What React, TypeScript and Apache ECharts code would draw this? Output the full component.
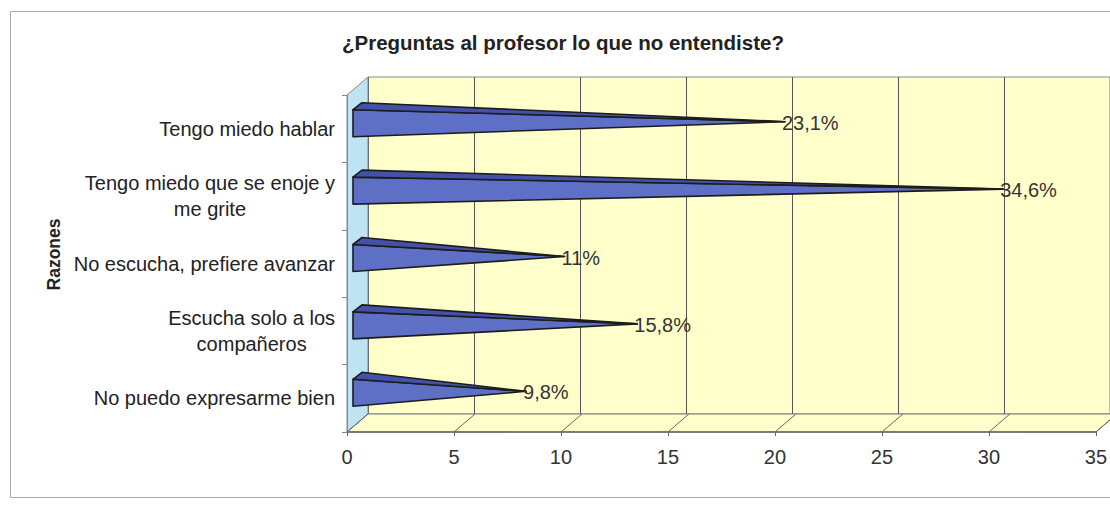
import React, { useEffect, useRef } from "react";
import * as echarts from "echarts";

const TITLE = "¿Preguntas al profesor lo que no entendiste?";
const AXIS_NAME = "Razones";
const categories = [
  "Tengo miedo hablar",
  "Tengo miedo que se enoje y\nme grite",
  "No escucha, prefiere avanzar",
  "Escucha solo a los\ncompañeros",
  "No puedo expresarme bien",
];
// bar lengths as drawn in the picture
const values = [20.0, 30.2, 9.7, 13.1, 7.9];
// data labels as printed in the picture
const valueLabels = ["23,1%", "34,6%", "11%", "15,8%", "9,8%"];
const xTicks = [0, 5, 10, 15, 20, 25, 30, 35];
const X_MIN = 0;
const X_MAX = 35;
const X_STEP = 5;

const FONT = "'Liberation Sans', Arial, sans-serif";
const DX = 21;
const DY = -18;

export default function App() {
  const ref = useRef<HTMLDivElement>(null);
  useEffect(() => {
    if (!ref.current) return;
    const chart = echarts.init(ref.current, null, { renderer: "svg" });
    const option: any = {
      animation: false,
      backgroundColor: "#ffffff",
      title: {
        text: TITLE,
        left: 337,
        top: 27,
        textStyle: { fontFamily: FONT, fontSize: 20.5, fontWeight: "bold", color: "#222" },
      },
      graphic: [
        {
          type: "rect",
          shape: { x: 10.5, y: 11.5, width: 1120, height: 486 },
          style: { fill: "none", stroke: "#a8a8a8", lineWidth: 1 },
          silent: true,
          z: 0,
        },
      ],
      grid: [
        { left: 347, top: 95, width: 751, height: 337, containLabel: false },
        {
          left: 347 + DX,
          top: 95 + DY,
          width: 751,
          height: 337,
          show: true,
          backgroundColor: "#FFFFCC",
          borderColor: "#8a8a8a",
          borderWidth: 1,
          z: 0,
        },
      ],
      xAxis: [
        {
          type: "value",
          gridIndex: 0,
          min: X_MIN,
          max: X_MAX,
          interval: X_STEP,
          axisLine: { show: true, lineStyle: { color: "#666", width: 1.5 } },
          axisTick: { show: true, length: 4, lineStyle: { color: "#666" } },
          splitLine: { show: false },
          axisLabel: {
            margin: 15,
            fontFamily: FONT,
            fontSize: 20,
            color: "#333",
            formatter: (v: number) => (xTicks.includes(v) ? String(v) : ""),
          },
          z: 5,
        },
        {
          type: "value",
          gridIndex: 1,
          min: X_MIN,
          max: X_MAX,
          interval: X_STEP,
          axisLine: { show: false },
          axisTick: { show: false },
          axisLabel: { show: false },
          splitLine: { show: true, lineStyle: { color: "#555", width: 1 } },
        },
      ],
      yAxis: [
        {
          type: "category",
          gridIndex: 0,
          data: categories,
          inverse: true,
          name: AXIS_NAME,
          nameLocation: "middle",
          nameRotate: 90,
          nameGap: 275,
          nameTextStyle: {
            fontFamily: FONT,
            fontSize: 17.5,
            fontWeight: "bold",
            color: "#222",
            padding: [0, 0, 0, 18],
          },
          axisLine: { show: true, lineStyle: { color: "#888", width: 1 } },
          axisTick: { show: true, length: 5, lineStyle: { color: "#888" } },
          axisLabel: {
            margin: 12,
            align: "right",
            formatter: (v: string) =>
              v
                .split("\n")
                .map((l) => `{c|${l}}`)
                .join("\n"),
            rich: {
              c: { align: "center", fontFamily: FONT, fontSize: 20, lineHeight: 26, color: "#222" },
            },
          },
          z: 5,
        },
        {
          type: "category",
          gridIndex: 1,
          data: categories,
          inverse: true,
          axisLine: { show: false },
          axisTick: { show: false },
          axisLabel: { show: false },
          splitLine: { show: false },
        },
      ],
      series: [
        {
          type: "custom",
          name: "walls",
          xAxisIndex: 0,
          yAxisIndex: 0,
          z: 1,
          silent: true,
          data: [[0, 0]],
          renderItem: (params: any, api: any) => {
            const n = categories.length;
            const band = api.size([0, 1])[1];
            const c0 = api.coord([X_MIN, 0]);
            const top = c0[1] - band / 2;
            const bottom = top + band * n;
            const x0 = c0[0];
            const xEnd = api.coord([X_MAX, 0])[0];
            const children: any[] = [
              {
                type: "polygon",
                shape: {
                  points: [
                    [x0, top],
                    [x0 + DX, top + DY],
                    [x0 + DX, bottom + DY],
                    [x0, bottom],
                  ],
                },
                style: { fill: "#BEE3F3", stroke: "#888", lineWidth: 1 },
              },
              {
                type: "polygon",
                shape: {
                  points: [
                    [x0, bottom],
                    [x0 + DX, bottom + DY],
                    [xEnd + DX, bottom + DY],
                    [xEnd, bottom],
                  ],
                },
                style: { fill: "#FFFFCC", stroke: "#777", lineWidth: 1 },
              },
            ];
            xTicks.forEach((t) => {
              const xt = api.coord([t, 0])[0];
              children.push({
                type: "line",
                shape: { x1: xt, y1: bottom, x2: xt + DX, y2: bottom + DY },
                style: { stroke: "#666", lineWidth: 1 },
              });
            });
            return { type: "group", children };
          },
        },
        {
          type: "custom",
          name: "Razones",
          xAxisIndex: 0,
          yAxisIndex: 0,
          z: 3,
          data: values.map((v, i) => [v, i]),
          encode: { x: 0, y: 1 },
          renderItem: (params: any, api: any) => {
            const v = api.value(0);
            const c = api.value(1);
            const base = api.coord([X_MIN, c]);
            const tip = api.coord([v, c]);
            const x0 = base[0] + 6;
            const yc = base[1];
            const xt = tip[0] + 10;
            const yt = yc - 7;
            return {
              type: "group",
              children: [
                {
                  type: "polygon",
                  shape: {
                    points: [
                      [x0, yc - 19],
                      [x0, yc + 8],
                      [xt, yt],
                    ],
                  },
                  style: { fill: "#5E6FC6", stroke: "#1c1c1c", lineWidth: 1.6, lineJoin: "round" },
                },
                {
                  type: "polygon",
                  shape: {
                    points: [
                      [x0, yc - 19],
                      [x0 + 9, yc - 26],
                      [xt, yt],
                    ],
                  },
                  style: { fill: "#4352A8", stroke: "#1c1c1c", lineWidth: 1.6, lineJoin: "round" },
                },
                {
                  type: "text",
                  style: {
                    text: valueLabels[params.dataIndex],
                    x: xt - 3,
                    y: yc - 6,
                    align: "left",
                    verticalAlign: "middle",
                    fontFamily: FONT,
                    fontSize: 20,
                    fill: "#333",
                  },
                },
              ],
            };
          },
        },
      ],
    };
    chart.setOption(option);
    return () => chart.dispose();
  }, []);
  return (
    <div
      ref={ref}
      style={{ position: "fixed", left: 0, top: 0, width: 1110, height: 508 }}
    />
  );
}
